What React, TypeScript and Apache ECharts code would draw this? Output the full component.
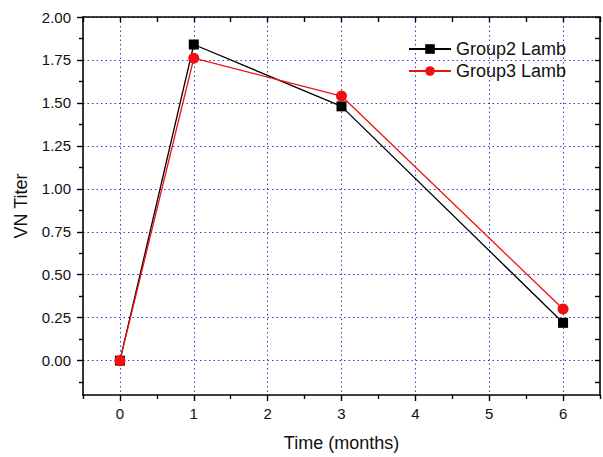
import React, { useEffect, useRef } from "react";
import * as echarts from "echarts";

const months = [0, 1, 3, 6];
const group2 = [0, 1.84, 1.48, 0.22];
const group3 = [0, 1.76, 1.54, 0.3];
const xMajor = [0, 1, 2, 3, 4, 5, 6];
const xMinor = [-0.5, 0.5, 1.5, 2.5, 3.5, 4.5, 5.5, 6.5];
const yMajor = [0, 0.25, 0.5, 0.75, 1, 1.25, 1.5, 1.75, 2];
const yMinor = [-0.125, 0.125, 0.375, 0.625, 0.875, 1.125, 1.375, 1.625, 1.875];

const FONT = "'Liberation Sans', Arial, sans-serif";
const GRIDCOL = "#3b3bc4";

export default function App() {
  const ref = useRef<HTMLDivElement>(null);
  useEffect(() => {
    if (!ref.current) return;
    const chart = echarts.init(ref.current, undefined, { renderer: "svg" });
    const xMin = -0.5, xMax = 6.5, yMin = -0.2, yMax = 2.0;
    const allX = [...xMajor, ...xMinor].sort((a, b) => a - b);
    const allY = [...yMajor, ...yMinor].sort((a, b) => a - b);
    const baseX = { type: "value", min: xMin, max: xMax, gridIndex: 0 };
    const baseY = { type: "value", min: yMin, max: yMax, gridIndex: 0 };
    chart.setOption({
      animation: false,
      backgroundColor: "#fff",
      grid: { left: 83, top: 17, right: 3, bottom: 59, containLabel: false },
      xAxis: [
        {
          ...baseX,
          position: "bottom",
          name: "Time (months)",
          nameLocation: "middle",
          nameGap: 39,
          nameTextStyle: { fontFamily: FONT, fontSize: 18, color: "#111" },
          axisLine: { show: true, onZero: false, lineStyle: { color: "#000", width: 1.6 } },
          axisTick: { show: true, inside: false, length: 6, customValues: xMajor, lineStyle: { color: "#000", width: 1.4 } },
          axisLabel: { show: true, customValues: xMajor, margin: 11, fontFamily: FONT, fontSize: 15, color: "#111" },
          splitLine: { show: true, lineStyle: { color: GRIDCOL, width: 1, type: [1.5, 3] } },
        },
        {
          ...baseX,
          position: "bottom",
          axisLine: { show: false, onZero: false },
          axisTick: { show: true, inside: false, length: 4, customValues: xMinor, lineStyle: { color: "#000", width: 1.4 } },
          axisLabel: { show: false },
          splitLine: { show: false },
        },
        {
          ...baseX,
          position: "top",
          axisLine: { show: true, onZero: false, lineStyle: { color: "#000", width: 1.6 } },
          axisTick: { show: true, inside: true, length: 5, customValues: allX, lineStyle: { color: "#000", width: 1.4 } },
          axisLabel: { show: false },
          splitLine: { show: false },
        },
      ],
      yAxis: [
        {
          ...baseY,
          position: "left",
          name: "VN Titer",
          nameLocation: "middle",
          nameGap: 53,
          nameTextStyle: { fontFamily: FONT, fontSize: 18, color: "#111" },
          axisLine: { show: true, onZero: false, lineStyle: { color: "#000", width: 1.6 } },
          axisTick: { show: true, inside: false, length: 6, customValues: yMajor, lineStyle: { color: "#000", width: 1.4 } },
          axisLabel: {
            show: true,
            customValues: yMajor,
            margin: 12,
            fontFamily: FONT,
            fontSize: 15,
            color: "#111",
            formatter: (v: number) => v.toFixed(2),
          },
          splitLine: { show: true, lineStyle: { color: GRIDCOL, width: 1, type: [1.5, 3] } },
        },
        {
          ...baseY,
          position: "left",
          axisLine: { show: false, onZero: false },
          axisTick: { show: true, inside: false, length: 4, customValues: yMinor, lineStyle: { color: "#000", width: 1.4 } },
          axisLabel: { show: false },
          splitLine: { show: false },
        },
        {
          ...baseY,
          position: "right",
          axisLine: { show: true, onZero: false, lineStyle: { color: "#000", width: 1.6 } },
          axisTick: { show: true, inside: true, length: 5, customValues: allY, lineStyle: { color: "#000", width: 1.4 } },
          axisLabel: { show: false },
          splitLine: { show: false },
        },
      ],
      legend: {
        orient: "vertical",
        left: 408,
        top: 40,
        padding: 0,
        itemWidth: 42,
        itemHeight: 12,
        itemGap: 4,
        textStyle: { fontFamily: FONT, fontSize: 18, lineHeight: 18, color: "#111" },
        data: ["Group2 Lamb", "Group3 Lamb"],
      },
      series: [
        {
          name: "Group2 Lamb",
          type: "line",
          xAxisIndex: 0,
          yAxisIndex: 0,
          data: months.map((m, i) => [m, group2[i]]),
          symbol: "rect",
          symbolSize: 10,
          color: "#000",
          lineStyle: { color: "#000", width: 1.3 },
          itemStyle: { color: "#000" },
          z: 3,
        },
        {
          name: "Group3 Lamb",
          type: "line",
          xAxisIndex: 0,
          yAxisIndex: 0,
          data: months.map((m, i) => [m, group3[i]]),
          symbol: "circle",
          symbolSize: 11,
          color: "#f01010",
          lineStyle: { color: "#f01010", width: 1.3 },
          itemStyle: { color: "#f01010" },
          z: 4,
        },
      ],
    });
    return () => chart.dispose();
  }, []);
  return <div ref={ref} style={{ width: 603, height: 457, position: "absolute", left: 0, top: 0 }} />;
}
